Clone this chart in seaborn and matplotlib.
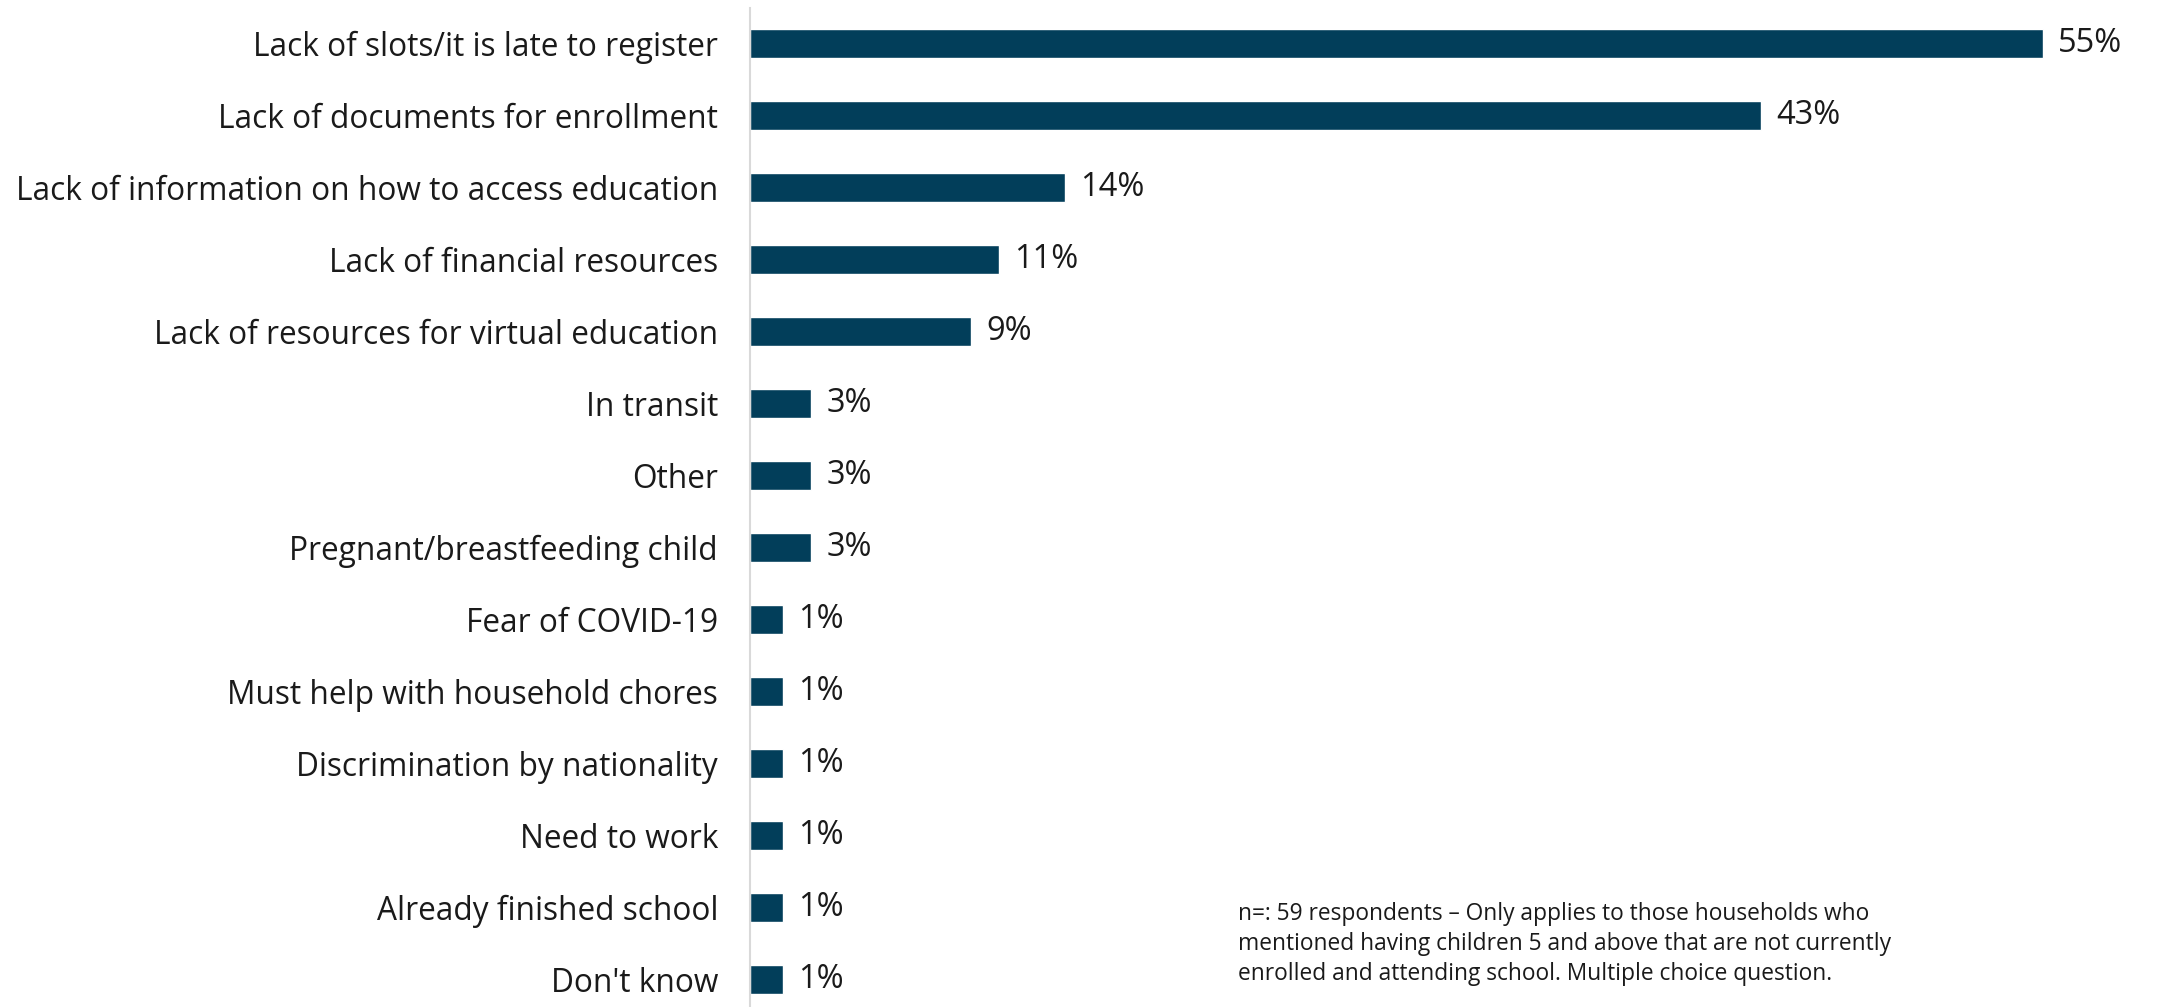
import numpy as np
import pandas as pd
import matplotlib
matplotlib.use("Agg")
import matplotlib.pyplot as plt
import matplotlib.transforms as mtransforms
import seaborn as sns

# Reasons for not attending school (share of respondents)
raisons = [
    "Lack of slots/it is late to register",
    "Lack of documents for enrollment",
    "Lack of information on how to access education",
    "Lack of financial resources",
    "Lack of resources for virtual education",
    "In transit",
    "Other",
    "Pregnant/breastfeeding child",
    "Fear of COVID-19",
    "Must help with household chores",
    "Discrimination by nationality",
    "Need to work",
    "Already finished school",
    "Don't know",
]
# bar lengths (%)
valeurs = [55, 43, 13.4, 10.6, 9.4, 2.6, 2.6, 2.6, 1.4, 1.4, 1.4, 1.4, 1.4, 1.4]
# printed labels
etiquettes = ["55%", "43%", "14%", "11%", "9%", "3%", "3%", "3%",
              "1%", "1%", "1%", "1%", "1%", "1%"]

note = ("n=: 59 respondents \u2013 Only applies to those households who\n"
        "mentioned having children 5 and above that are not currently\n"
        "enrolled and attending school. Multiple choice question.")

sns.set_style("white")
plt.rcParams['font.family'] = ['Open Sans', 'DejaVu Sans']

W, H = 2157, 1007
fig = plt.figure(figsize=(W / 100, H / 100), dpi=100)

gauche = 750
droite = 2135
px_par_pct = 23.51
ax = fig.add_axes([gauche / W, 0, (droite - gauche) / W, 1 - 7.5 / H])

df = pd.DataFrame({"raison": raisons, "valeur": valeurs})
sns.barplot(data=df, x="valeur", y="raison", color="#023E5A", saturation=1,
            width=0.4, ax=ax)

ax.set_xlim(0, (droite - gauche) / px_par_pct)
ax.set_ylim(13.5 - 8.5 / 72, -0.5)

textes = ax.bar_label(ax.containers[0], labels=etiquettes, padding=11,
                      fontsize=23.5, color="#1a1a1a")
# petit décalage vers le bas pour centrer sur la barre
decalage = mtransforms.ScaledTranslation(0, -3 / 100, fig.dpi_scale_trans)
for t in textes:
    t.set_transform(t.get_transform() + decalage)

# Habillage
for s in ["top", "right", "bottom"]:
    ax.spines[s].set_visible(False)
ax.spines["left"].set_color("#d9d9d9")
ax.spines["left"].set_linewidth(1.5)
ax.set_xticks([])
ax.set_xlabel("")
ax.set_ylabel("")
ax.tick_params(axis="y", length=0, pad=23, labelsize=22.8, labelcolor="#1a1a1a")

fig.text(1238 / W, 1 - 902 / H, note, fontsize=16.4, color="#1a1a1a",
         va="top", ha="left", linespacing=1.33)

fig.savefig("out.png", dpi=100)
